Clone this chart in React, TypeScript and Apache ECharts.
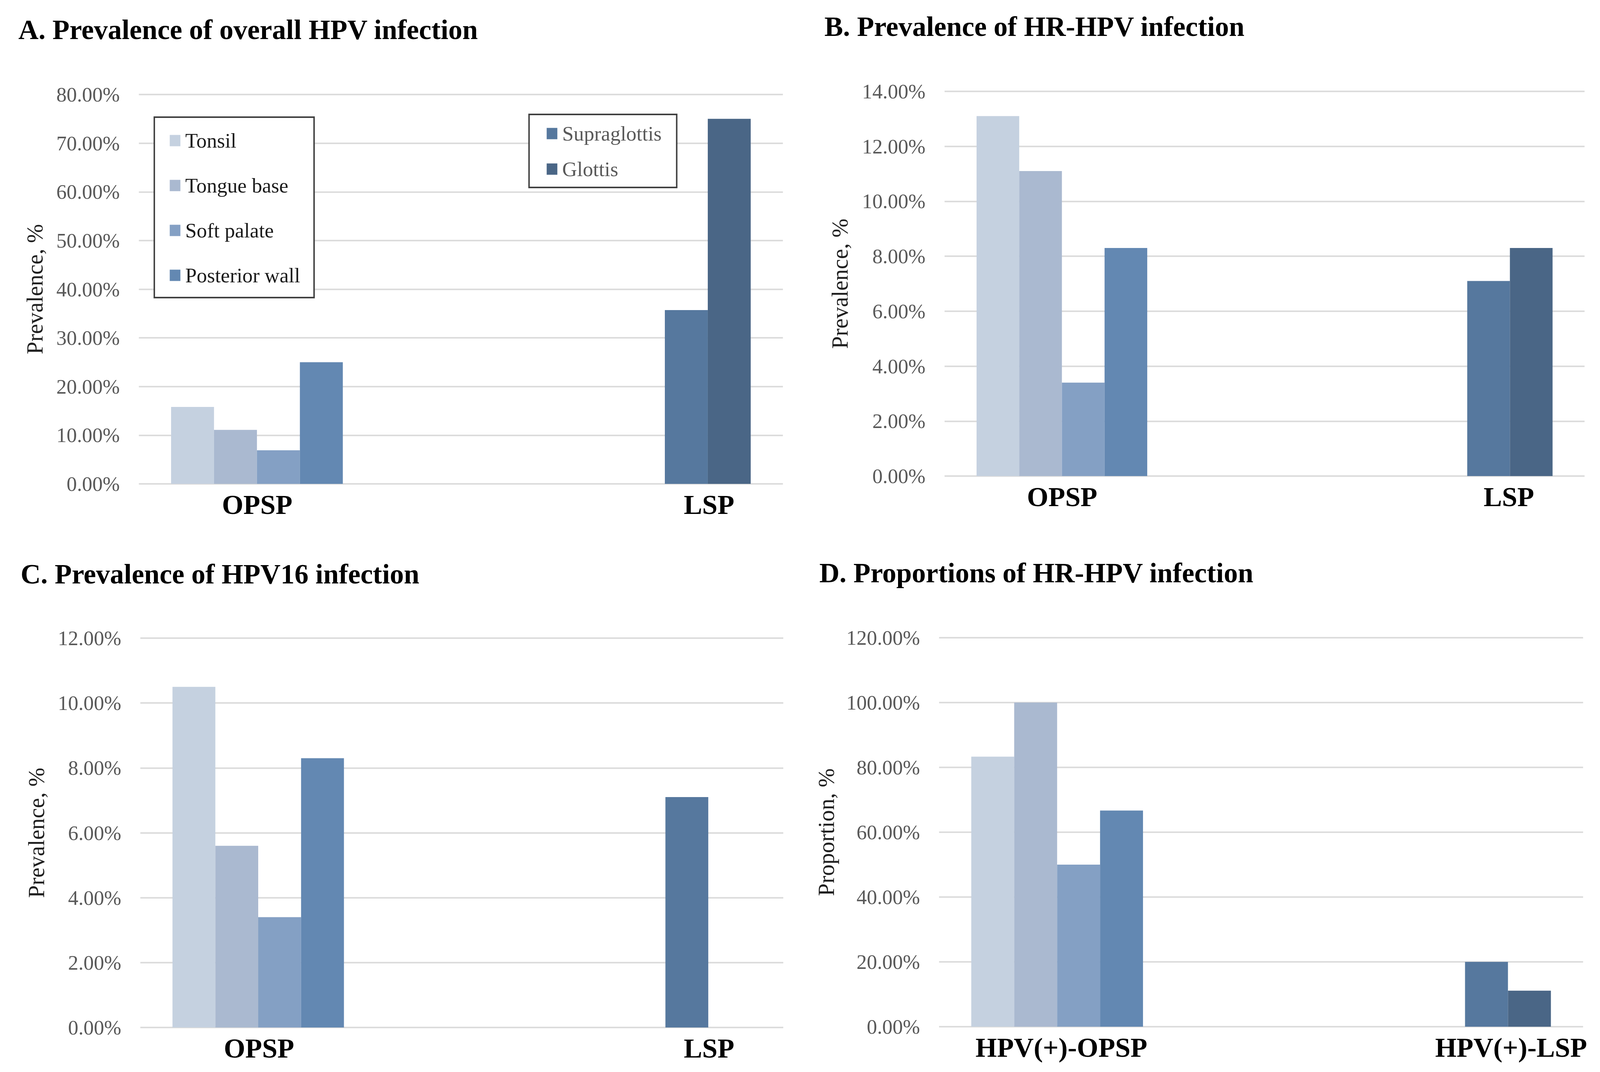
import React, { useEffect, useRef } from 'react';
import * as echarts from 'echarts';

// ---------- data (values in %) ----------
const seriesNames = ['Tonsil', 'Tongue base', 'Soft palate', 'Posterior wall', 'Supraglottis', 'Glottis'];
const seriesColors = ['#C5D1E0', '#AAB9D0', '#84A0C4', '#6388B2', '#56789E', '#4A6686'];

const categoriesSP = ['OPSP', 'LSP'];
const categoriesHPVpos = ['HPV(+)-OPSP', 'HPV(+)-LSP'];

// each row: [first category, second category] for one series
const overallHPV = [[15.8, null], [11.1, null], [6.9, null], [25.0, null], [null, 35.7], [null, 75.0]];
const hrHPV = [[13.1, null], [11.1, null], [3.4, null], [8.3, null], [null, 7.1], [null, 8.3]];
const hpv16 = [[10.5, null], [5.6, null], [3.4, null], [8.3, null], [null, 7.1], [null, 0]];
const hrProportion = [[83.3, null], [100.0, null], [50.0, null], [66.7, null], [null, 20.0], [null, 11.1]];

const panelTitles = [
  'A. Prevalence of overall HPV infection',
  'B. Prevalence of HR-HPV infection',
  'C. Prevalence of HPV16 infection',
  'D. Proportions of HR-HPV infection',
];
const yAxisNames = ['Prevalence, %', 'Prevalence, %', 'Prevalence, %', 'Proportion, %'];
const yMaxes = [80, 14, 12, 120];
const yIntervals = [10, 2, 2, 20];

const panelValues = [overallHPV, hrHPV, hpv16, hrProportion];
const panelCategories = [categoriesSP, categoriesSP, categoriesSP, categoriesHPVpos];

// ---------- layout (designed for a 4355 x 2745 canvas, scaled to the real size) ----------
const BASE_W = 4355;
const BASE_H = 2745;
const SERIF = "'Liberation Serif', 'Times New Roman', serif";
const layouts = [
  { grid: { left: 378, top: 242, width: 1753, height: 997 }, labelCenters: [700, 1930], title: [50, 75], nameGap: 252 },
  { grid: { left: 2571, top: 234, width: 1742, height: 985 }, labelCenters: [2891, 4107], title: [2244, 67], nameGap: 254 },
  { grid: { left: 382, top: 1634, width: 1750, height: 997 }, labelCenters: [705, 1930], title: [56, 1469], nameGap: 252 },
  { grid: { left: 2556, top: 1633, width: 1753, height: 996 }, labelCenters: [2889, 4113], title: [2230, 1466], nameGap: 276 },
];

function buildOption(sx: number, sy: number) {
  const kx = (v: number) => v * sx;
  const ky = (v: number) => v * sy;
  const kf = (v: number) => v * sx;
  const grids: any[] = [];
  const xAxes: any[] = [];
  const yAxes: any[] = [];
  const series: any[] = [];
  const graphics: any[] = [];

  layouts.forEach((lay, p) => {
    const g = lay.grid;
    grids.push({ left: kx(g.left), top: ky(g.top), width: kx(g.width), height: ky(g.height), containLabel: false });
    const band = g.width / 2;
    const shift0 = lay.labelCenters[0] - (g.left + band * 0.5);
    const shift1 = lay.labelCenters[1] - (g.left + band * 1.5);
    const richBase = { fontFamily: SERIF, fontSize: kf(75), fontWeight: 'bold', color: '#000', lineHeight: ky(80) };
    const pad = (sh: number) => (sh < 0 ? [0, kx(-2 * sh), 0, 0] : [0, 0, 0, kx(2 * sh)]);
    xAxes.push({
      type: 'category',
      gridIndex: p,
      data: panelCategories[p],
      axisLine: { show: false },
      axisTick: { show: false },
      axisLabel: {
        interval: 0,
        margin: ky(13),
        formatter: (v: string, i: number) => (i === 0 ? `{a|${v}}` : `{b|${v}}`),
        rich: {
          a: { ...richBase, padding: pad(shift0) },
          b: { ...richBase, padding: pad(shift1) },
        },
      },
    });
    yAxes.push({
      type: 'value',
      gridIndex: p,
      min: 0,
      max: yMaxes[p],
      interval: yIntervals[p],
      name: yAxisNames[p],
      nameLocation: 'middle',
      nameGap: kx(lay.nameGap),
      nameTextStyle: { fontFamily: SERIF, fontSize: kf(62), color: '#1f1f1f' },
      axisLine: { show: false },
      axisTick: { show: false },
      axisLabel: {
        margin: kx(52),
        fontFamily: SERIF,
        fontSize: kf(56),
        color: '#595959',
        formatter: (v: number) => v.toFixed(2) + '%',
      },
      splitLine: { lineStyle: { color: '#DCDCDC', width: ky(4) } },
    });
    seriesNames.forEach((name, si) => {
      series.push({
        type: 'bar',
        name,
        xAxisIndex: p,
        yAxisIndex: p,
        data: panelValues[p][si],
        itemStyle: { color: seriesColors[si] },
        barGap: '0%',
        barCategoryGap: '20%',
      });
    });
    graphics.push({
      type: 'text',
      x: kx(lay.title[0]),
      y: ky(lay.title[1]),
      style: {
        text: panelTitles[p],
        font: `bold ${kf(76)}px ${SERIF}`,
        fill: '#000',
        verticalAlign: 'middle',
        align: 'left',
      },
    });
  });

  const legendBase = {
    orient: 'vertical',
    icon: 'rect',
    itemWidth: kx(29),
    itemHeight: ky(29),
    selectedMode: false,
    borderColor: '#404040',
    borderWidth: kx(4),
    backgroundColor: '#ffffff',
  };

  return {
    animation: false,
    backgroundColor: '#ffffff',
    grid: grids,
    xAxis: xAxes,
    yAxis: yAxes,
    series,
    graphic: graphics,
    legend: [
      {
        ...legendBase,
        data: seriesNames.slice(0, 4),
        left: kx(420),
        top: ky(300),
        padding: [ky(30), kx(38), ky(27), kx(42)],
        itemGap: ky(55),
        textStyle: { fontFamily: SERIF, fontSize: kf(56), lineHeight: ky(60), color: '#1a1a1a', padding: [0, 0, 0, kx(8)] },
      },
      {
        ...legendBase,
        data: seriesNames.slice(4),
        left: kx(1440),
        top: ky(293),
        padding: [ky(19), kx(41), ky(17), kx(48)],
        itemGap: ky(31),
        textStyle: { fontFamily: SERIF, fontSize: kf(56), lineHeight: ky(60), color: '#595959', padding: [0, 0, 0, kx(8)] },
      },
    ],
  };
}

export default function App() {
  const ref = useRef<HTMLDivElement>(null);
  useEffect(() => {
    const el = ref.current;
    if (!el) return;
    const w = el.clientWidth || BASE_W;
    const h = el.clientHeight || BASE_H;
    const chart = echarts.init(el, undefined, { renderer: 'svg' });
    chart.setOption(buildOption(w / BASE_W, h / BASE_H) as any);
    return () => chart.dispose();
  }, []);
  return (
    <div
      ref={ref}
      style={{ position: 'fixed', left: 0, top: 0, width: '100vw', height: '100vh', background: '#fff' }}
    />
  );
}
